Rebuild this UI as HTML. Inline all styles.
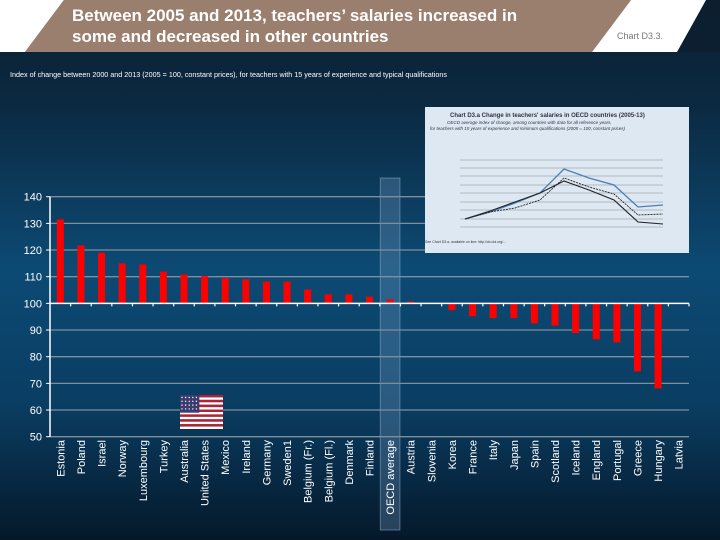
<!DOCTYPE html>
<html><head><meta charset="utf-8"><style>
html,body{margin:0;padding:0;width:720px;height:540px;overflow:hidden;background:#0b3555}
svg{display:block;font-family:"Liberation Sans",sans-serif}
</style></head><body>
<svg id="c" width="720" height="540" viewBox="0 0 720 540">
<defs>
<linearGradient id="bg" x1="0" y1="0" x2="0" y2="1">
<stop offset="0" stop-color="#0b1f30"/><stop offset="0.2" stop-color="#0b2a42"/>
<stop offset="0.5" stop-color="#0c4a74"/><stop offset="0.75" stop-color="#0a3d62"/>
<stop offset="1" stop-color="#05182a"/></linearGradient>
</defs>
<rect width="720" height="540" fill="url(#bg)"/>
<polygon points="0,0 720,0 720,52 0,52" fill="#0b1f30"/>
<polygon points="0,0 64,0 25,52 0,52" fill="#ffffff"/>
<polygon points="64,0 631,0 592,52 25,52" fill="#9a7f6e"/>
<polygon points="631,0 706,0 677,52 592,52" fill="#ffffff"/>
<text x="72" y="21" fill="#fff" font-size="17" font-weight="bold">Between 2005 and 2013, teachers’ salaries increased in</text>
<text x="72" y="42" fill="#fff" font-size="17" font-weight="bold">some and decreased in other countries</text>
<text x="617" y="39" fill="#777" font-size="9">Chart D3.3.</text>
<text x="10" y="77" fill="#fff" font-size="7.2">Index of change between 2000 and 2013 (2005 = 100, constant prices), for teachers with 15 years of experience and typical qualifications</text>
<g id="plot"></g>
<g id="inset">
<rect x="425" y="107" width="264" height="146" fill="#dde8f2"/>
<text x="450" y="117" font-size="6" fill="#334" font-weight="bold">Chart D3.a  Change in teachers' salaries in OECD countries (2005-13)</text>
<text x="447" y="124" font-size="4.5" fill="#334" font-style="italic">OECD average index of change, among countries with data for all reference years,</text>
<text x="430" y="130" font-size="4.5" fill="#334" font-style="italic">for teachers with 15 years of experience and minimum qualifications (2005 = 100, constant prices)</text>
<g stroke="#888" stroke-width="0.6">
<line x1="460" y1="160" x2="663" y2="160"/><line x1="460" y1="168" x2="663" y2="168"/><line x1="460" y1="176" x2="663" y2="176"/><line x1="460" y1="185" x2="663" y2="185"/><line x1="460" y1="193" x2="663" y2="193"/><line x1="460" y1="202" x2="663" y2="202"/><line x1="460" y1="210" x2="663" y2="210"/><line x1="460" y1="219" x2="663" y2="219"/><line x1="460" y1="227" x2="663" y2="227"/>
</g>
<polyline points="465,219 490,212 515,203 540,193 564,169 589,178 614,185 638,207 663,205" fill="none" stroke="#4a7fb5" stroke-width="1.3"/>
<polyline points="465,219 490,212 515,208 540,200 564,178 589,187 614,194 638,215 663,214" fill="none" stroke="#222" stroke-width="0.9" stroke-dasharray="2,1"/>
<polyline points="465,219 490,211 515,202 540,193 564,181 589,190 614,200 638,222 663,224" fill="none" stroke="#222" stroke-width="1.1"/>
<text x="425" y="243" font-size="3.5" fill="#333">See Chart D3.a, available on line: http://dx.doi.org/...</text>
</g>
</svg>
<script>
const categories=["Estonia","Poland","Israel","Norway","Luxembourg","Turkey","Australia","United States","Mexico","Ireland","Germany","Sweden1","Belgium (Fr.)","Belgium (Fl.)","Denmark","Finland","OECD average","Austria","Slovenia","Korea","France","Italy","Japan","Spain","Scotland","Iceland","England","Portugal","Greece","Hungary","Latvia"];
const values=[131.5,121.7,119,115,114.6,111.9,110.8,110.2,109.5,109,108.2,108.2,105.2,103.4,103.4,102.5,101.5,100.7,100,97.5,95.2,94.5,94.5,92.5,91.7,88.9,86.5,85.4,74.5,68.1,null];
const yTicks=[50,60,70,80,90,100,110,120,130,140];
const NS="http://www.w3.org/2000/svg";
const g=document.getElementById('plot');
const X0=50,X1=689,Y0=436.7,Y1=196.7,YMIN=50,YMAX=140;
const band=(X1-X0)/categories.length;
function y(v){return Y0-(v-YMIN)/(YMAX-YMIN)*(Y0-Y1);}
function x(i){return X0+band*(i+0.5);}
function el(t,a){const e=document.createElementNS(NS,t);for(const k in a)e.setAttribute(k,a[k]);g.appendChild(e);return e;}
const oi=categories.indexOf("OECD average");
const hl=el('rect',{x:x(oi)-band/2+0.5,y:178,width:band-1,height:352,fill:"rgba(120,160,200,0.3)",stroke:"rgba(150,180,210,0.5)"});


yTicks.forEach(t=>{
  if(t!==100){const l=el('line',{x1:X0,x2:X1,y1:y(t),y2:y(t),stroke:"#7e8e9c","stroke-width":1.3});
  
  }
  const tk=el('line',{x1:X0-4,x2:X0,y1:y(t),y2:y(t),stroke:"#fff","stroke-width":1});
  
  
  const tx=el('text',{x:X0-8,y:y(t)+4,"text-anchor":"end",fill:"#fff","font-size":11});
  tx.textContent=t;
  
  
});
const ax=el('line',{x1:X0,x2:X0,y1:Y1,y2:Y0,stroke:"#fff","stroke-width":1.5});


values.forEach((v,i)=>{
  if(v!==null&&v!==100){
    const b=el('rect',{x:x(i)-3.5,y:Math.min(y(v),y(100)),width:7,height:Math.abs(y(v)-y(100)),fill:"#ff0000"});
    
    
  }
});
const base=el('line',{x1:X0,x2:X1,y1:y(100),y2:y(100),stroke:"#fff","stroke-width":1.5});


categories.forEach((c,i)=>{
  const tk=el('line',{x1:X0+band*(i+1),x2:X0+band*(i+1),y1:y(100),y2:y(100)+3,stroke:"#fff","stroke-width":1.2});
  
  
  const t=el('text',{transform:`translate(${x(i)+4},440) rotate(-90)`,"text-anchor":"end",fill:"#fff","font-size":11});
  t.textContent=c;
  
  
});
const fx=180,fy=395,fw=43,fh=34;
const fl=el('g',{});


for(let s=0;s<7;s++){const r=document.createElementNS(NS,'rect');r.setAttribute('x',fx);r.setAttribute('y',fy+s*fh/7);r.setAttribute('width',fw);r.setAttribute('height',fh/14);r.setAttribute('fill','#b22234');fl.appendChild(r);
const w=document.createElementNS(NS,'rect');w.setAttribute('x',fx);w.setAttribute('y',fy+s*fh/7+fh/14);w.setAttribute('width',fw);w.setAttribute('height',fh/14);w.setAttribute('fill','#fff');fl.appendChild(w);}
const cn=document.createElementNS(NS,'rect');cn.setAttribute('x',fx);cn.setAttribute('y',fy);cn.setAttribute('width',fw*0.45);cn.setAttribute('height',fh*0.52);cn.setAttribute('fill','#3c3b6e');fl.appendChild(cn);
for(let r=0;r<4;r++)for(let k=0;k<5;k++){const d=document.createElementNS(NS,'circle');d.setAttribute('cx',fx+2+k*3.6);d.setAttribute('cy',fy+2.5+r*3.8);d.setAttribute('r',0.7);d.setAttribute('fill','#fff');fl.appendChild(d);}
</script>
</body></html>
